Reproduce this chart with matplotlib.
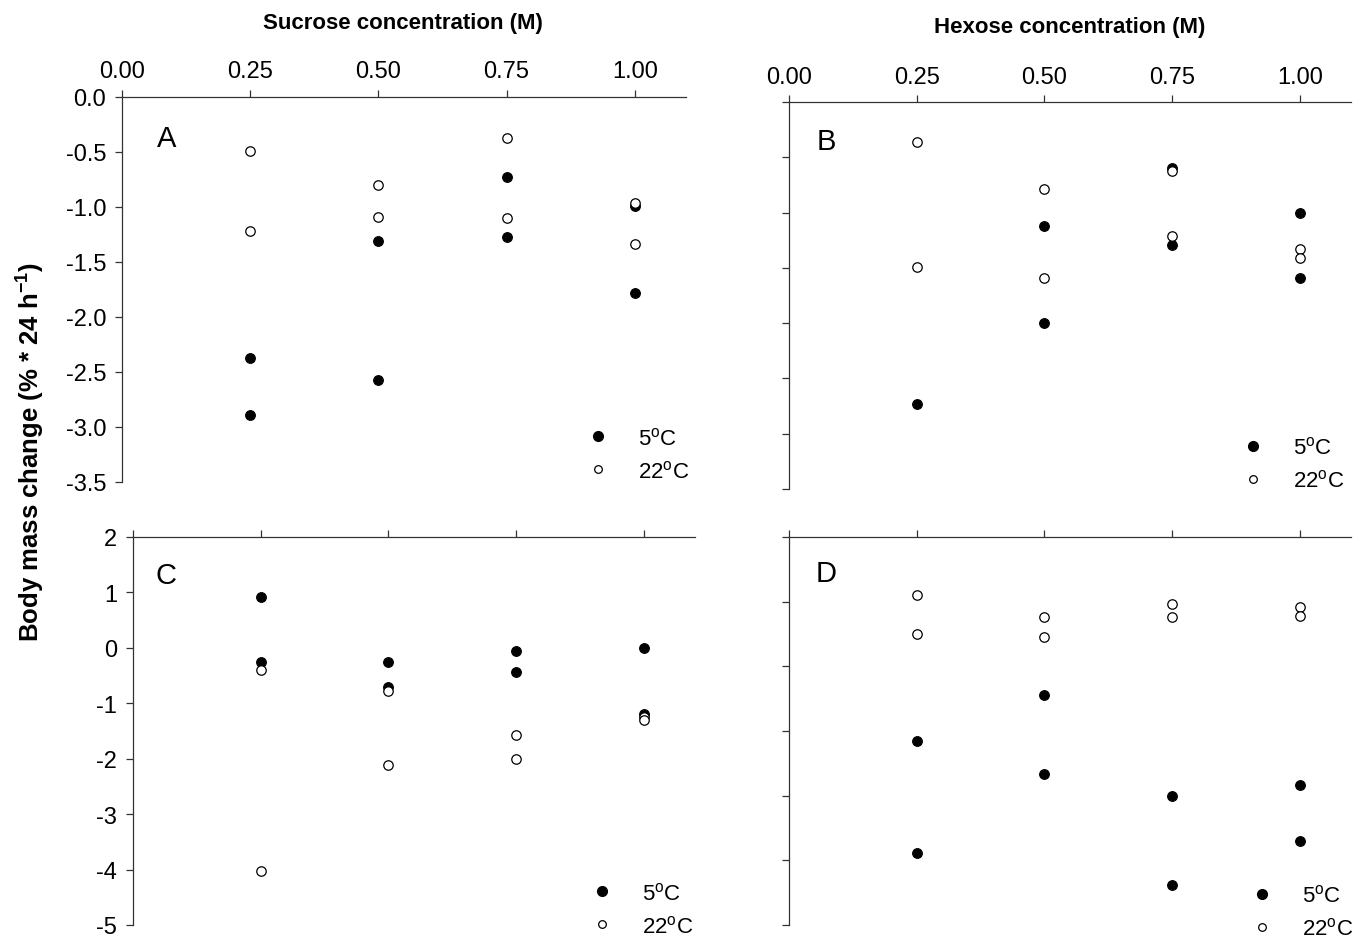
import matplotlib
matplotlib.use("Agg")
import matplotlib.pyplot as plt
from matplotlib.lines import Line2D

plt.rcParams['font.family'] = ['Liberation Sans', 'DejaVu Sans']
plt.rcParams['mathtext.fontset'] = 'custom'
plt.rcParams['mathtext.rm'] = 'Liberation Sans'
plt.rcParams['mathtext.bf'] = 'Liberation Sans:bold'
plt.rcParams['mathtext.default'] = 'regular'

# ---------------- data ----------------
# Panel A: sucrose
A_x5 = [0.25, 0.25, 0.50, 0.50, 0.75, 0.75, 1.00, 1.00]
A_y5 = [-2.37, -2.89, -1.31, -2.57, -0.73, -1.27, -0.99, -1.78]
A_x22 = [0.25, 0.25, 0.50, 0.50, 0.75, 0.75, 1.00, 1.00]
A_y22 = [-0.49, -1.22, -0.80, -1.09, -0.37, -1.10, -0.96, -1.34]

# Panel B: hexose
B_x5 = [0.25, 0.50, 0.50, 0.75, 0.75, 1.00, 1.00]
B_y5 = [-2.73, -1.12, -2.00, -0.60, -1.29, -1.00, -1.59]
B_x22 = [0.25, 0.25, 0.50, 0.50, 0.75, 0.75, 1.00, 1.00]
B_y22 = [-0.36, -1.49, -0.79, -1.59, -0.62, -1.21, -1.33, -1.41]

# Panel C: sucrose
C_x5 = [0.25, 0.25, 0.50, 0.50, 0.75, 0.75, 1.00, 1.00]
C_y5 = [0.91, -0.25, -0.25, -0.70, -0.05, -0.43, -0.01, -1.19]
C_x22 = [0.25, 0.25, 0.50, 0.50, 0.75, 0.75, 1.00, 1.00]
C_y22 = [-0.40, -4.02, -0.78, -2.11, -1.57, -2.01, -1.25, -1.31]

# Panel D: hexose
D_x5 = [0.25, 0.25, 0.50, 0.50, 0.75, 0.75, 1.00, 1.00]
D_y5 = [-2.15, -3.89, -1.44, -2.66, -3.01, -4.38, -2.83, -3.70]
D_x22 = [0.25, 0.25, 0.50, 0.50, 0.75, 0.75, 1.00, 1.00]
D_y22 = [0.11, -0.50, -0.23, -0.55, -0.03, -0.24, -0.09, -0.22]

x_ticks = [0.00, 0.25, 0.50, 0.75, 1.00]
x_ticklabels = ['0.00', '0.25', '0.50', '0.75', '1.00']
top_yticks = [0.0, -0.5, -1.0, -1.5, -2.0, -2.5, -3.0, -3.5]
top_yticklabels = ['0.0', '-0.5', '-1.0', '-1.5', '-2.0', '-2.5', '-3.0', '-3.5']
C_yticks = [2, 1, 0, -1, -2, -3, -4, -5]
C_yticklabels = ['2', '1', '0', '-1', '-2', '-3', '-4', '-5']
D_yticks = [1, 0, -1, -2, -3, -4, -5]

legend_labels = ['5$^{o}$C', '22$^{o}$C']
xtitle_A = 'Sucrose concentration (M)'
xtitle_B = 'Hexose concentration (M)'
ylabel = 'Body mass change (% * 24 h$^{\\mathbf{-1}}$)'

# ---------------- figure ----------------
W, H = 1364, 945
fig = plt.figure(figsize=(W / 100, H / 100), dpi=100)


def rect(left, right, top, bottom):
    return [left / W, 1 - bottom / H, (right - left) / W, (bottom - top) / H]


LC = '#333333'
TICK_FS = 17


def make_ax(r, ylim, yticks, yticklabels, show_xlabels, xpad):
    ax = fig.add_axes(rect(*r))
    ax.set_xlim(0, 1.1)
    ax.set_ylim(*ylim)
    for s in ['right', 'bottom']:
        ax.spines[s].set_visible(False)
    for s in ['left', 'top']:
        ax.spines[s].set_color(LC)
        ax.spines[s].set_linewidth(0.9)
    ax.xaxis.tick_top()
    ax.set_xticks(x_ticks)
    if show_xlabels:
        ax.set_xticklabels(x_ticklabels)
    else:
        ax.set_xticklabels([])
    ax.set_yticks(yticks)
    if yticklabels is not None:
        ax.set_yticklabels(yticklabels)
    else:
        ax.set_yticklabels([])
    ax.tick_params(axis='both', direction='out', length=5, width=0.9,
                   color=LC, labelcolor='black', labelsize=TICK_FS)
    ax.tick_params(axis='y', pad=6.5)
    ax.tick_params(axis='x', pad=xpad)
    ax.patch.set_alpha(0)
    return ax


def plot_pts(ax, x5, y5, x22, y22):
    ax.plot(x5, y5, linestyle='none', marker='o', ms=7, mfc='black',
            mec='black', mew=0.8, clip_on=False)
    ax.plot(x22, y22, linestyle='none', marker='o', ms=6.8, mfc='white',
            mec='black', mew=0.9, clip_on=False)


def add_legend(ax, mx, my):
    h = [Line2D([], [], linestyle='none', marker='o', ms=7, mfc='black', mec='black'),
         Line2D([], [], linestyle='none', marker='o', ms=5.5, mfc='white', mec='black', mew=0.9)]
    fs = 16
    fspx = fs * 100 / 72
    x0 = mx - 0.5 * fspx
    leg = ax.legend(h, legend_labels, loc='center left', frameon=False,
                    bbox_to_anchor=(x0 / W, 1 - my / H),
                    bbox_transform=fig.transFigure, fontsize=fs,
                    handlelength=1.0, handletextpad=1.3, labelspacing=0.5,
                    borderpad=0, borderaxespad=0, numpoints=1)
    return leg


axA = make_ax((122, 686, 98, 483), (-3.5, 0.0), top_yticks, top_yticklabels, True, 5.5)
axB = make_ax((789, 1351, 103, 490), (-3.5, 0.0), top_yticks, None, True, 5.0)
axC = make_ax((133, 695, 538, 926), (-5, 2), C_yticks, C_yticklabels, False, 5)
axD = make_ax((789, 1351, 538, 926), (-5, 1), D_yticks, None, False, 5)

plot_pts(axA, A_x5, A_y5, A_x22, A_y22)
plot_pts(axB, B_x5, B_y5, B_x22, B_y22)
plot_pts(axC, C_x5, C_y5, C_x22, C_y22)
plot_pts(axD, D_x5, D_y5, D_x22, D_y22)

add_legend(axA, 598, 455.5)
add_legend(axB, 1253, 465)
add_legend(axC, 602, 910.5)
add_legend(axD, 1262, 913)

# panel letters
for (px, py, t) in [(167, 139, 'A'), (826, 142, 'B'), (166, 576, 'C'), (826, 574, 'D')]:
    fig.text(px / W, 1 - py / H, t, ha='center', va='center', fontsize=21)

# axis titles
fig.text(403 / W, 1 - 23 / H, xtitle_A, ha='center', va='center',
         fontsize=16, fontweight='bold')
fig.text(1070 / W, 1 - 28 / H, xtitle_B, ha='center', va='center',
         fontsize=16, fontweight='bold')
fig.text(31 / W, 1 - 452 / H, ylabel, ha='center', va='center', rotation=90,
         fontsize=18.5, fontweight='bold')

fig.savefig('out.png', dpi=100)
